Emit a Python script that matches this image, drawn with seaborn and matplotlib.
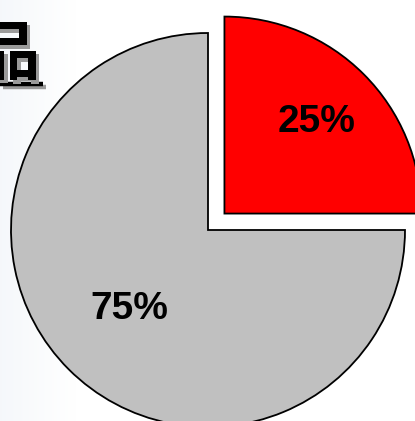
import numpy as np
import matplotlib
matplotlib.use("Agg")
import matplotlib.pyplot as plt
import matplotlib.patheffects as pe
from matplotlib.lines import Line2D
import seaborn as sns

sns.set_theme(style="white")
plt.rcParams["font.family"] = ["Liberation Sans", "Noto Sans CJK SC", "DejaVu Sans"]

# Share of the two groups
categories = ["重点产品", "其他"]
shares = [25, 75]
slice_colors = ["#FF0000", "#C0C0C0"]
title_text = "品"

W, H = 415, 421
fig = plt.figure(figsize=(W / 100, H / 100), dpi=100)
fig.patch.set_facecolor("white")

# faint cool tint along the left side of the slide background
bg = fig.add_axes([0, 0, 1, 1], zorder=-5)
grad = np.linspace(0, 1, 200)
tint = np.clip(grad / 0.18, 0, 1)
img = np.ones((2, 200, 3))
base = np.array([0.962, 0.972, 0.984])
for c in range(3):
    img[:, :, c] = base[c] + (1 - base[c]) * tint
bg.imshow(img, aspect="auto", extent=[0, 1, 0, 1])
bg.set_axis_off()

# pie axes spanning the figure, scaled so the radius is ~197 px
cx, cy, r = 208, 230, 197
ax = fig.add_axes([0, 0, 1, 1])
wedges, texts, autotexts = ax.pie(
    shares,
    colors=slice_colors,
    startangle=90,
    counterclock=False,
    explode=[0.118, 0.0],
    autopct=lambda p: f"{p:.0f}%",
    pctdistance=0.6,
    wedgeprops=dict(edgecolor="black", linewidth=1.3),
    textprops=dict(fontsize=28, fontweight="bold", color="black"),
)
ax.set_xlim(-cx / r, (W - cx) / r)
ax.set_ylim(-(H - cy) / r, cy / r)
ax.set_axis_off()

# label radii differ per slice
label_r = [0.66, 0.565]
for w, t, lr in zip(wedges, autotexts, label_r):
    theta = np.deg2rad((w.theta1 + w.theta2) / 2)
    x0, y0 = w.center
    t.set_position((x0 + lr * np.cos(theta), y0 + lr * np.sin(theta)))

# heading (runs off the left edge) with drop shadow and underline
shadow = [pe.withSimplePatchShadow(offset=(2.5, -2.5), shadow_rgbFace="#9a9a9a", alpha=1.0), pe.Normal()]
fig.text(40 / W, 1 - 55 / H, title_text, ha="right", va="center",
         fontsize=47, fontweight=900, family=["Noto Sans CJK SC"],
         color="black", path_effects=shadow)
ul = Line2D([0, 43 / W], [1 - 83.5 / H, 1 - 83.5 / H], transform=fig.transFigure,
            color="black", linewidth=3.2, solid_capstyle="butt",
            path_effects=[pe.SimpleLineShadow(offset=(2.5, -2.5), shadow_color="#9a9a9a", alpha=1.0), pe.Normal()])
fig.add_artist(ul)

fig.savefig("out.png", dpi=100)
